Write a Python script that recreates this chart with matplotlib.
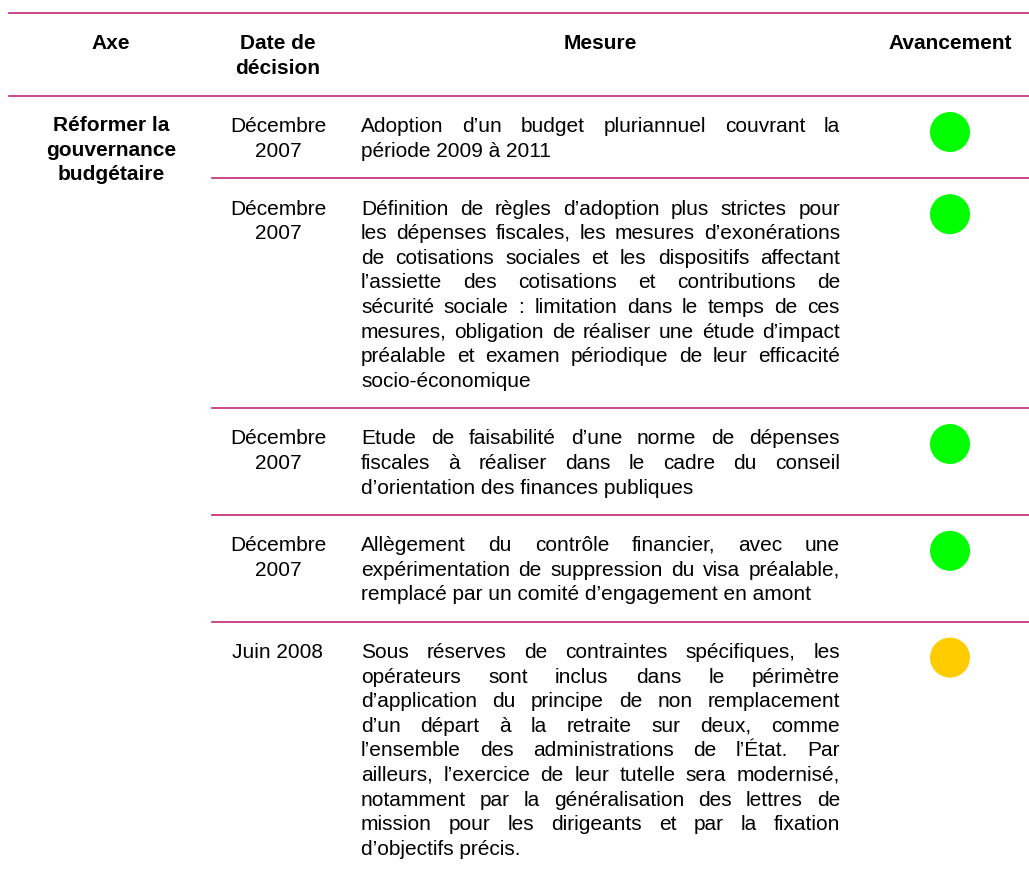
import matplotlib.pyplot as plt
from matplotlib.patches import Circle
from matplotlib.font_manager import FontProperties
from matplotlib.backends.backend_agg import get_hinting_flag

plt.rcParams['font.family'] = ['Liberation Sans', 'DejaVu Sans']

# données du tableau
headers = ['Axe', 'Date de\ndécision', 'Mesure', 'Avancement']
axe = 'Réformer la\ngouvernance\nbudgétaire'
dates = ['Décembre\n2007', 'Décembre\n2007', 'Décembre\n2007', 'Décembre\n2007', 'Juin 2008']
mesures = [
    ['Adoption d’un budget pluriannuel couvrant la',
     'période 2009 à 2011'],
    ['Définition de règles d’adoption plus strictes pour',
     'les dépenses fiscales, les mesures d’exonérations',
     'de cotisations sociales et les dispositifs affectant',
     'l’assiette des cotisations et contributions de',
     'sécurité sociale : limitation dans le temps de ces',
     'mesures, obligation de réaliser une étude d’impact',
     'préalable et examen périodique de leur efficacité',
     'socio-économique'],
    ['Etude de faisabilité d’une norme de dépenses',
     'fiscales à réaliser dans le cadre du conseil',
     'd’orientation des finances publiques'],
    ['Allègement du contrôle financier, avec une',
     'expérimentation de suppression du visa préalable,',
     'remplacé par un comité d’engagement en amont'],
    ['Sous réserves de contraintes spécifiques, les',
     'opérateurs sont inclus dans le périmètre',
     'd’application du principe de non remplacement',
     'd’un départ à la retraite sur deux, comme',
     'l’ensemble des administrations de l’État. Par',
     'ailleurs, l’exercice de leur tutelle sera modernisé,',
     'notamment par la généralisation des lettres de',
     'mission pour les dirigeants et par la fixation',
     'd’objectifs précis.'],
]
avancement = ['vert', 'vert', 'vert', 'vert', 'orange']
couleurs = {'vert': '#00FF00', 'orange': '#FFCC00'}

W, H = 1029, 870
fig = plt.figure(figsize=(W / 100, H / 100), dpi=100)
ax = fig.add_axes([0, 0, 1, 1])
ax.set_xlim(0, W)
ax.set_ylim(H, 0)
ax.axis('off')
renderer = fig.canvas.get_renderer()

fs = 15
lh = 24.6
dy = 6  # centre visuel -> ligne de base
trait = '#BD2776'
x_axe, x_date, x_av = 111, 278, 950
x_left, x_right = 361, 840


def cale(s, y, weight='normal'):
    # corrige l'arrondi de l'image Agg pour que toutes les lignes de base tombent au même pixel
    yb = round(y)
    try:
        prop = FontProperties(family=plt.rcParams['font.family'], size=fs, weight=weight)
        font = renderer._prepare_font(prop)
        font.set_text(s, 0, flags=get_hinting_flag())
        d26 = font.get_descent()
        h26 = font.get_width_height()[1]
        a26 = h26 - d26
        return yb - int(a26 / 64) + int(h26 / 64) - d26 / 64.0 - (int(d26 / 64) - int(d26 / 64))
    except Exception:
        return yb


def mot(x, y, s, ha='left', weight='normal'):
    ax.text(x, cale(s, y, weight), s, fontsize=fs, ha=ha, va='baseline', fontweight=weight)


def largeur(s):
    t = ax.text(0, 0, s, fontsize=fs)
    w = t.get_window_extent(renderer).width
    t.remove()
    return w


def ligne_justifiee(txt, y):
    mots = txt.split()
    ws = [largeur(m) for m in mots]
    gap = (x_right - x_left - sum(ws)) / (len(mots) - 1)
    x = x_left
    for m, w in zip(mots, ws):
        mot(x, y, m)
        x += w + gap


def bloc(x, y, txt, weight='normal'):
    for k, l in enumerate(txt.split('\n')):
        mot(x, y + k * lh + dy, l, ha='center', weight=weight)


# en-tête
y_top, y_head = 14, 97
ax.plot([9, W], [y_top, y_top], color=trait, lw=1.2)
ax.plot([9, W], [y_head, y_head], color=trait, lw=1.2)
for x, h in zip([x_axe, x_date, (x_left + x_right) / 2, x_av], headers):
    bloc(x, 43, h, weight='bold')

bloc(x_axe, 125, axe, weight='bold')

# lignes du tableau
y = y_head
for i, (d, lignes, st) in enumerate(zip(dates, mesures, avancement)):
    top = y
    yl = top + 29.5
    bloc(x_date, yl, d)
    for k, l in enumerate(lignes):
        if k < len(lignes) - 1:
            ligne_justifiee(l, yl + k * lh + dy)
        else:
            mot(x_left, yl + k * lh + dy, l)
    ax.add_patch(Circle((x_av, top + 36), 20, color=couleurs[st], lw=0))
    y = top + len(lignes) * lh + 33
    if i < len(dates) - 1:
        ax.plot([212, W], [y, y], color=trait, lw=1.2)

fig.savefig('out.png', dpi=100)
